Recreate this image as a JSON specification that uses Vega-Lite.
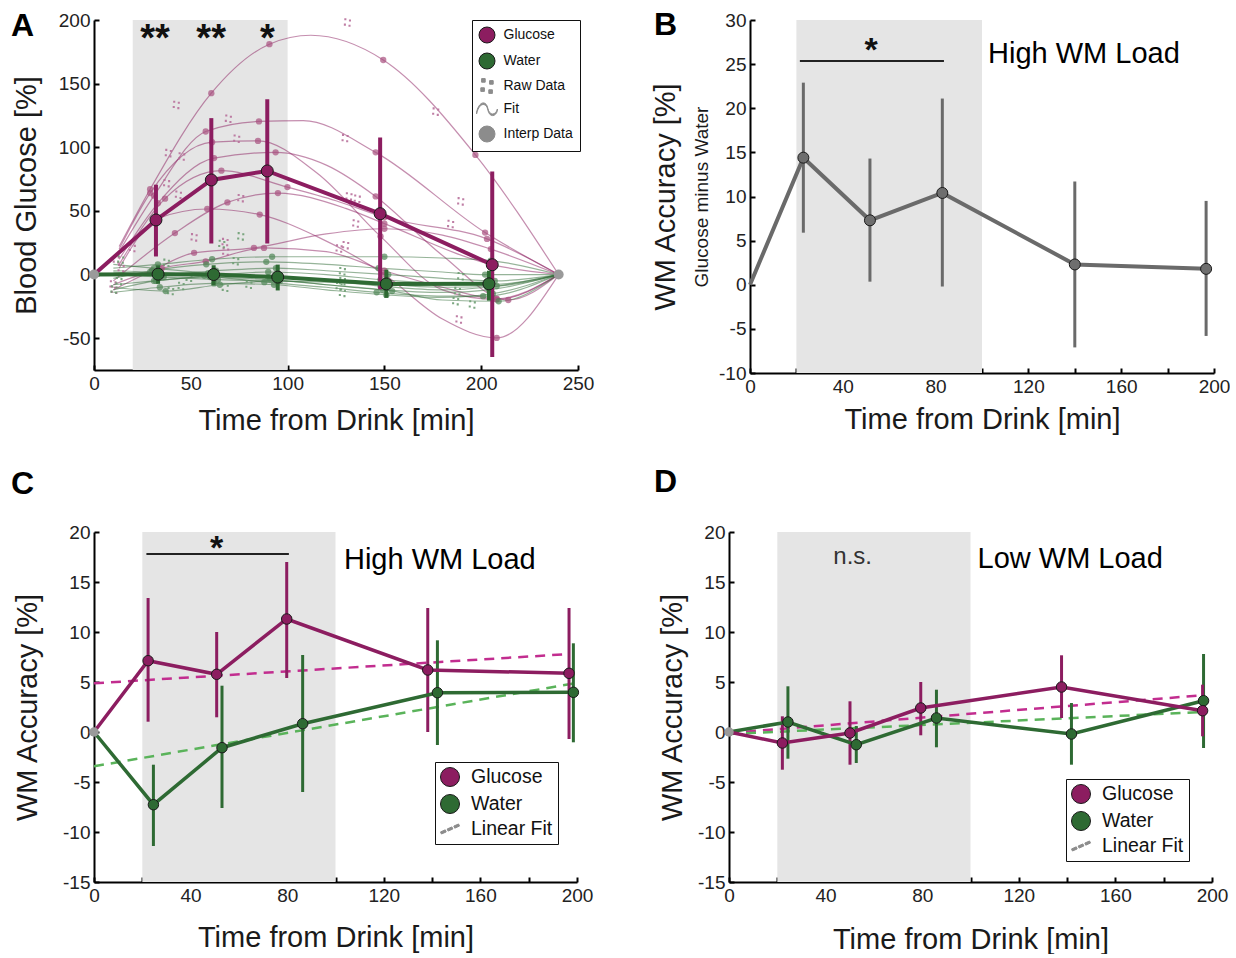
{
"$schema": "https://vega.github.io/schema/vega-lite/v6.json",
"background": "white",
"padding": {"left": 11, "top": 9, "right": 0, "bottom": 0},
"config": {
 "font": "Liberation Sans",
 "view": {"stroke": null},
 "axis": {"grid": false, "domainColor": "#000", "domainWidth": 2, "tickColor": "#000", "tickWidth": 2, "tickSize": -5, "labelFontSize": 19, "labelColor": "#222", "labelPadding": 9, "titleFontSize": 29, "titleFontWeight": "normal", "titleColor": "#1a1a1a", "labelFlush": false, "labelOverlap": false, "labelFont": "Liberation Sans", "titleFont": "Liberation Sans"},
 "title": {"anchor": "start", "frame": "group", "fontSize": 32, "fontWeight": "bold", "color": "#000", "offset": 0, "baseline": "alphabetic", "font": "Liberation Sans"},
 "text": {"font": "Liberation Sans"},
 "legend": {"labelFont": "Liberation Sans", "symbolOpacity": 1}
},
"datasets": {
 "A_shade": [{"start": 20, "end": 100}],
 "A_anchor": [{"t": 0, "v": 0}, {"t": 240, "v": 0}],
 "A_stars": [{"t": 31.5, "label": "**"}, {"t": 60.5, "label": "**"}, {"t": 89.5, "label": "*"}],
 "A_mean": [
  {"cond": "Glucose", "t": 0, "v": 0, "lo": null, "hi": null},
  {"cond": "Glucose", "t": 32, "v": 42.9, "lo": 14.2, "hi": 70.6},
  {"cond": "Glucose", "t": 60.6, "v": 74.3, "lo": 24.4, "hi": 122.9},
  {"cond": "Glucose", "t": 89.5, "v": 81.4, "lo": 24.4, "hi": 137.8},
  {"cond": "Glucose", "t": 147.8, "v": 47.8, "lo": -11.5, "hi": 107.7},
  {"cond": "Glucose", "t": 205.7, "v": 7.7, "lo": -64.8, "hi": 80.9},
  {"cond": "Water", "t": 0, "v": 0, "lo": null, "hi": null},
  {"cond": "Water", "t": 33.1, "v": 0.3, "lo": -7.3, "hi": 7.3},
  {"cond": "Water", "t": 61.8, "v": 0, "lo": -8.3, "hi": 7.3},
  {"cond": "Water", "t": 94.9, "v": -2, "lo": -12.5, "hi": 7.8},
  {"cond": "Water", "t": 151, "v": -7.4, "lo": -18.3, "hi": 3.9},
  {"cond": "Water", "t": 204, "v": -7.3, "lo": -20.5, "hi": 3}
 ],
 "A_fit": [
  {"cond":"Glucose","subj":"g1","t":13,"v":22,"kind":"fit"},{"cond":"Glucose","subj":"g1","t":29,"v":67,"kind":"interp"},{"cond":"Glucose","subj":"g1","t":60.6,"v":142.5,"kind":"interp"},{"cond":"Glucose","subj":"g1","t":90.6,"v":181,"kind":"interp"},{"cond":"Glucose","subj":"g1","t":112,"v":188,"kind":"fit"},{"cond":"Glucose","subj":"g1","t":149.4,"v":168.6,"kind":"interp"},{"cond":"Glucose","subj":"g1","t":197,"v":94,"kind":"interp"},{"cond":"Glucose","subj":"g1","t":240,"v":0,"kind":"fit"},
  {"cond":"Glucose","subj":"g2","t":13,"v":18,"kind":"fit"},{"cond":"Glucose","subj":"g2","t":31,"v":62,"kind":"interp"},{"cond":"Glucose","subj":"g2","t":57.7,"v":112.4,"kind":"interp"},{"cond":"Glucose","subj":"g2","t":85.2,"v":120.3,"kind":"interp"},{"cond":"Glucose","subj":"g2","t":108,"v":121,"kind":"fit"},{"cond":"Glucose","subj":"g2","t":145.5,"v":96,"kind":"interp"},{"cond":"Glucose","subj":"g2","t":202,"v":33,"kind":"interp"},{"cond":"Glucose","subj":"g2","t":240,"v":0,"kind":"fit"},
  {"cond":"Glucose","subj":"g3","t":13,"v":20,"kind":"fit"},{"cond":"Glucose","subj":"g3","t":29,"v":64,"kind":"interp"},{"cond":"Glucose","subj":"g3","t":61,"v":104,"kind":"interp"},{"cond":"Glucose","subj":"g3","t":84.7,"v":105,"kind":"interp"},{"cond":"Glucose","subj":"g3","t":115,"v":80,"kind":"fit"},{"cond":"Glucose","subj":"g3","t":148,"v":30,"kind":"interp"},{"cond":"Glucose","subj":"g3","t":180,"v":-12,"kind":"fit"},{"cond":"Glucose","subj":"g3","t":208,"v":-19.6,"kind":"interp"},{"cond":"Glucose","subj":"g3","t":240,"v":0,"kind":"fit"},
  {"cond":"Glucose","subj":"g4","t":13,"v":12,"kind":"fit"},{"cond":"Glucose","subj":"g4","t":33,"v":56,"kind":"interp"},{"cond":"Glucose","subj":"g4","t":62,"v":91.5,"kind":"interp"},{"cond":"Glucose","subj":"g4","t":93.8,"v":96,"kind":"interp"},{"cond":"Glucose","subj":"g4","t":120,"v":86,"kind":"fit"},{"cond":"Glucose","subj":"g4","t":145.5,"v":61.4,"kind":"interp"},{"cond":"Glucose","subj":"g4","t":180,"v":15,"kind":"fit"},{"cond":"Glucose","subj":"g4","t":214,"v":-20,"kind":"interp"},{"cond":"Glucose","subj":"g4","t":240,"v":0,"kind":"fit"},
  {"cond":"Glucose","subj":"g5","t":13,"v":8,"kind":"fit"},{"cond":"Glucose","subj":"g5","t":36.7,"v":59.6,"kind":"interp"},{"cond":"Glucose","subj":"g5","t":65.8,"v":81.6,"kind":"interp"},{"cond":"Glucose","subj":"g5","t":99.9,"v":68.7,"kind":"interp"},{"cond":"Glucose","subj":"g5","t":125,"v":58,"kind":"fit"},{"cond":"Glucose","subj":"g5","t":150,"v":45,"kind":"interp"},{"cond":"Glucose","subj":"g5","t":203,"v":28,"kind":"interp"},{"cond":"Glucose","subj":"g5","t":240,"v":0,"kind":"fit"},
  {"cond":"Glucose","subj":"g6","t":13,"v":5,"kind":"fit"},{"cond":"Glucose","subj":"g6","t":33,"v":44,"kind":"interp"},{"cond":"Glucose","subj":"g6","t":58.5,"v":51.5,"kind":"interp"},{"cond":"Glucose","subj":"g6","t":85.6,"v":47.1,"kind":"interp"},{"cond":"Glucose","subj":"g6","t":115,"v":30,"kind":"fit"},{"cond":"Glucose","subj":"g6","t":150,"v":0,"kind":"interp"},{"cond":"Glucose","subj":"g6","t":180,"v":-35,"kind":"fit"},{"cond":"Glucose","subj":"g6","t":208,"v":-49.8,"kind":"interp"},{"cond":"Glucose","subj":"g6","t":240,"v":0,"kind":"fit"},
  {"cond":"Glucose","subj":"g7","t":10,"v":-5,"kind":"fit"},{"cond":"Glucose","subj":"g7","t":41.8,"v":32.6,"kind":"interp"},{"cond":"Glucose","subj":"g7","t":68.9,"v":56.7,"kind":"interp"},{"cond":"Glucose","subj":"g7","t":95,"v":64,"kind":"interp"},{"cond":"Glucose","subj":"g7","t":130,"v":52,"kind":"fit"},{"cond":"Glucose","subj":"g7","t":150,"v":40,"kind":"interp"},{"cond":"Glucose","subj":"g7","t":205,"v":8,"kind":"interp"},{"cond":"Glucose","subj":"g7","t":240,"v":0,"kind":"fit"},
  {"cond":"Glucose","subj":"g8","t":10,"v":-12,"kind":"fit"},{"cond":"Glucose","subj":"g8","t":30,"v":3,"kind":"interp"},{"cond":"Glucose","subj":"g8","t":51.7,"v":17,"kind":"interp"},{"cond":"Glucose","subj":"g8","t":82.6,"v":20.9,"kind":"interp"},{"cond":"Glucose","subj":"g8","t":120,"v":32,"kind":"fit"},{"cond":"Glucose","subj":"g8","t":150,"v":36,"kind":"interp"},{"cond":"Glucose","subj":"g8","t":180,"v":31,"kind":"fit"},{"cond":"Glucose","subj":"g8","t":205,"v":20,"kind":"interp"},{"cond":"Glucose","subj":"g8","t":240,"v":0,"kind":"fit"},
  {"cond":"Glucose","subj":"g9","t":10,"v":-8,"kind":"fit"},{"cond":"Glucose","subj":"g9","t":35,"v":5,"kind":"interp"},{"cond":"Glucose","subj":"g9","t":57.7,"v":10.4,"kind":"interp"},{"cond":"Glucose","subj":"g9","t":87.8,"v":20.9,"kind":"interp"},{"cond":"Glucose","subj":"g9","t":120,"v":18,"kind":"fit"},{"cond":"Glucose","subj":"g9","t":150,"v":3,"kind":"interp"},{"cond":"Glucose","subj":"g9","t":180,"v":-10,"kind":"fit"},{"cond":"Glucose","subj":"g9","t":208,"v":-19,"kind":"interp"},{"cond":"Glucose","subj":"g9","t":240,"v":0,"kind":"fit"},
  {"cond":"Water","subj":"w1","t":10,"v":5,"kind":"fit"},{"cond":"Water","subj":"w1","t":33,"v":8,"kind":"interp"},{"cond":"Water","subj":"w1","t":61,"v":12,"kind":"interp"},{"cond":"Water","subj":"w1","t":92,"v":14,"kind":"interp"},{"cond":"Water","subj":"w1","t":120,"v":14,"kind":"fit"},{"cond":"Water","subj":"w1","t":150,"v":14,"kind":"interp"},{"cond":"Water","subj":"w1","t":180,"v":13,"kind":"fit"},{"cond":"Water","subj":"w1","t":205,"v":11,"kind":"interp"},{"cond":"Water","subj":"w1","t":240,"v":0,"kind":"fit"},
  {"cond":"Water","subj":"w2","t":10,"v":-3,"kind":"fit"},{"cond":"Water","subj":"w2","t":30,"v":3,"kind":"interp"},{"cond":"Water","subj":"w2","t":58,"v":8,"kind":"interp"},{"cond":"Water","subj":"w2","t":89,"v":10,"kind":"interp"},{"cond":"Water","subj":"w2","t":120,"v":8,"kind":"fit"},{"cond":"Water","subj":"w2","t":147,"v":5,"kind":"interp"},{"cond":"Water","subj":"w2","t":180,"v":2,"kind":"fit"},{"cond":"Water","subj":"w2","t":202,"v":0,"kind":"interp"},{"cond":"Water","subj":"w2","t":240,"v":0,"kind":"fit"},
  {"cond":"Water","subj":"w3","t":10,"v":2,"kind":"fit"},{"cond":"Water","subj":"w3","t":35,"v":0,"kind":"interp"},{"cond":"Water","subj":"w3","t":63,"v":3,"kind":"interp"},{"cond":"Water","subj":"w3","t":94,"v":5,"kind":"interp"},{"cond":"Water","subj":"w3","t":120,"v":3,"kind":"fit"},{"cond":"Water","subj":"w3","t":152,"v":0,"kind":"interp"},{"cond":"Water","subj":"w3","t":180,"v":-3,"kind":"fit"},{"cond":"Water","subj":"w3","t":207,"v":-5,"kind":"interp"},{"cond":"Water","subj":"w3","t":240,"v":0,"kind":"fit"},
  {"cond":"Water","subj":"w4","t":10,"v":-8,"kind":"fit"},{"cond":"Water","subj":"w4","t":31,"v":-5,"kind":"interp"},{"cond":"Water","subj":"w4","t":59,"v":-1,"kind":"interp"},{"cond":"Water","subj":"w4","t":90,"v":2,"kind":"interp"},{"cond":"Water","subj":"w4","t":120,"v":0,"kind":"fit"},{"cond":"Water","subj":"w4","t":148,"v":-4,"kind":"interp"},{"cond":"Water","subj":"w4","t":180,"v":-7,"kind":"fit"},{"cond":"Water","subj":"w4","t":203,"v":-8,"kind":"interp"},{"cond":"Water","subj":"w4","t":240,"v":0,"kind":"fit"},
  {"cond":"Water","subj":"w5","t":10,"v":0,"kind":"fit"},{"cond":"Water","subj":"w5","t":36,"v":-2,"kind":"interp"},{"cond":"Water","subj":"w5","t":64,"v":-4,"kind":"interp"},{"cond":"Water","subj":"w5","t":95,"v":-5,"kind":"interp"},{"cond":"Water","subj":"w5","t":120,"v":-6,"kind":"fit"},{"cond":"Water","subj":"w5","t":153,"v":-8,"kind":"interp"},{"cond":"Water","subj":"w5","t":180,"v":-10,"kind":"fit"},{"cond":"Water","subj":"w5","t":208,"v":-9,"kind":"interp"},{"cond":"Water","subj":"w5","t":240,"v":0,"kind":"fit"},
  {"cond":"Water","subj":"w6","t":10,"v":-12,"kind":"fit"},{"cond":"Water","subj":"w6","t":32,"v":-5,"kind":"interp"},{"cond":"Water","subj":"w6","t":60,"v":-2,"kind":"interp"},{"cond":"Water","subj":"w6","t":91,"v":-4,"kind":"interp"},{"cond":"Water","subj":"w6","t":120,"v":-8,"kind":"fit"},{"cond":"Water","subj":"w6","t":149,"v":-12,"kind":"interp"},{"cond":"Water","subj":"w6","t":180,"v":-14,"kind":"fit"},{"cond":"Water","subj":"w6","t":204,"v":-12,"kind":"interp"},{"cond":"Water","subj":"w6","t":240,"v":0,"kind":"fit"},
  {"cond":"Water","subj":"w7","t":10,"v":-14,"kind":"fit"},{"cond":"Water","subj":"w7","t":34,"v":-10,"kind":"interp"},{"cond":"Water","subj":"w7","t":62,"v":-7,"kind":"interp"},{"cond":"Water","subj":"w7","t":93,"v":-8,"kind":"interp"},{"cond":"Water","subj":"w7","t":120,"v":-12,"kind":"fit"},{"cond":"Water","subj":"w7","t":151,"v":-16,"kind":"interp"},{"cond":"Water","subj":"w7","t":180,"v":-18,"kind":"fit"},{"cond":"Water","subj":"w7","t":206,"v":-15,"kind":"interp"},{"cond":"Water","subj":"w7","t":240,"v":0,"kind":"fit"},
  {"cond":"Water","subj":"w8","t":10,"v":3,"kind":"fit"},{"cond":"Water","subj":"w8","t":29,"v":2,"kind":"interp"},{"cond":"Water","subj":"w8","t":57,"v":-1,"kind":"interp"},{"cond":"Water","subj":"w8","t":88,"v":-6,"kind":"interp"},{"cond":"Water","subj":"w8","t":120,"v":-10,"kind":"fit"},{"cond":"Water","subj":"w8","t":146,"v":-14,"kind":"interp"},{"cond":"Water","subj":"w8","t":180,"v":-17,"kind":"fit"},{"cond":"Water","subj":"w8","t":201,"v":-17,"kind":"interp"},{"cond":"Water","subj":"w8","t":240,"v":0,"kind":"fit"},
  {"cond":"Water","subj":"w9","t":10,"v":-10,"kind":"fit"},{"cond":"Water","subj":"w9","t":37,"v":-13,"kind":"interp"},{"cond":"Water","subj":"w9","t":65,"v":-8,"kind":"interp"},{"cond":"Water","subj":"w9","t":96,"v":-5,"kind":"interp"},{"cond":"Water","subj":"w9","t":120,"v":-8,"kind":"fit"},{"cond":"Water","subj":"w9","t":154,"v":-13,"kind":"interp"},{"cond":"Water","subj":"w9","t":180,"v":-20,"kind":"fit"},{"cond":"Water","subj":"w9","t":209,"v":-21,"kind":"interp"},{"cond":"Water","subj":"w9","t":240,"v":0,"kind":"fit"},
  {"cond":"Water","subj":"w10","t":10,"v":8,"kind":"fit"},{"cond":"Water","subj":"w10","t":31,"v":5,"kind":"interp"},{"cond":"Water","subj":"w10","t":59,"v":1,"kind":"interp"},{"cond":"Water","subj":"w10","t":90,"v":-2,"kind":"interp"},{"cond":"Water","subj":"w10","t":120,"v":-5,"kind":"fit"},{"cond":"Water","subj":"w10","t":148,"v":-9,"kind":"interp"},{"cond":"Water","subj":"w10","t":180,"v":-12,"kind":"fit"},{"cond":"Water","subj":"w10","t":203,"v":-10,"kind":"interp"},{"cond":"Water","subj":"w10","t":240,"v":0,"kind":"fit"}
 ],
 "A_raw": [
  {"cond":"Glucose","t":42.5,"v":133.3},{"cond":"Glucose","t":69.4,"v":122.4},{"cond":"Glucose","t":73.7,"v":106.7},{"cond":"Glucose","t":38.4,"v":95.4},{"cond":"Glucose","t":45.3,"v":92.8},{"cond":"Glucose","t":37.5,"v":71.8},{"cond":"Glucose","t":43.6,"v":62.7},{"cond":"Glucose","t":75.8,"v":60},{"cond":"Glucose","t":51.7,"v":29.2},{"cond":"Glucose","t":67.7,"v":25.5},{"cond":"Glucose","t":11.5,"v":11.8},{"cond":"Glucose","t":9.8,"v":-7.8},{"cond":"Glucose","t":19.8,"v":20.9},{"cond":"Glucose","t":130.9,"v":198},{"cond":"Glucose","t":129.7,"v":107.2},{"cond":"Glucose","t":176.5,"v":128},{"cond":"Glucose","t":131.7,"v":61.4},{"cond":"Glucose","t":136,"v":59.6},{"cond":"Glucose","t":189.4,"v":57.5},{"cond":"Glucose","t":184.2,"v":39.7},{"cond":"Glucose","t":135.2,"v":40.1},{"cond":"Glucose","t":130,"v":23.1},{"cond":"Glucose","t":126.6,"v":20.5},{"cond":"Glucose","t":188.5,"v":-35.3},{"cond":"Glucose","t":10.5,"v":-12},{"cond":"Glucose","t":14,"v":5},{"cond":"Glucose","t":68,"v":18},
  {"cond":"Water","t":75.8,"v":30},{"cond":"Water","t":39.6,"v":-13},{"cond":"Water","t":67.8,"v":-10.4},{"cond":"Water","t":37.4,"v":9.2},{"cond":"Water","t":49.1,"v":-2.6},{"cond":"Water","t":73.2,"v":10.5},{"cond":"Water","t":12.9,"v":-5.2},{"cond":"Water","t":10.3,"v":-11.8},{"cond":"Water","t":13.8,"v":11.8},{"cond":"Water","t":128.3,"v":2.6},{"cond":"Water","t":128.3,"v":-5.2},{"cond":"Water","t":128.3,"v":-14.4},{"cond":"Water","t":189.4,"v":-1.3},{"cond":"Water","t":187.7,"v":-13},{"cond":"Water","t":186.8,"v":-20.9},{"cond":"Water","t":195.4,"v":-23.5},{"cond":"Water","t":126.6,"v":-9.2},{"cond":"Water","t":80,"v":-8},{"cond":"Water","t":45,"v":-9},{"cond":"Water","t":66,"v":24}
 ],
 "B_line": [
  {"t": 0, "v": 0, "lo": null, "hi": null},
  {"t": 23, "v": 14.4, "lo": 5.9, "hi": 22.9},
  {"t": 51.7, "v": 7.3, "lo": 0.35, "hi": 14.3},
  {"t": 82.9, "v": 10.4, "lo": -0.2, "hi": 21.1},
  {"t": 140, "v": 2.3, "lo": -7.1, "hi": 11.7},
  {"t": 196.6, "v": 1.8, "lo": -5.8, "hi": 9.5}
 ],
 "B_shade": [{"start": 20, "end": 100}],
 "B_sig": [{"t": 21.5, "t2": 83.6, "v": 25.35}],
 "B_star": [{"t": 52.2, "v": 25.35, "label": "*"}],
 "B_label": [{"t": 102.6, "v": 25.1, "label": "High WM Load"}],
 "B_sub": [{"t": -18.1, "v": 9.94, "label": "Glucose minus Water"}],
 "C_shade": [{"start": 20, "end": 100}],
 "C_mean": [
  {"cond": "Glucose", "t": 0, "v": 0, "lo": null, "hi": null},
  {"cond": "Glucose", "t": 22.4, "v": 7.13, "lo": 1.03, "hi": 13.4},
  {"cond": "Glucose", "t": 50.8, "v": 5.77, "lo": 1.47, "hi": 10.0},
  {"cond": "Glucose", "t": 79.8, "v": 11.3, "lo": 5.4, "hi": 17.0},
  {"cond": "Glucose", "t": 138.2, "v": 6.2, "lo": 0.0, "hi": 12.4},
  {"cond": "Glucose", "t": 196.7, "v": 5.87, "lo": -0.7, "hi": 12.4},
  {"cond": "Water", "t": 0, "v": 0, "lo": null, "hi": null},
  {"cond": "Water", "t": 24.6, "v": -7.27, "lo": -11.4, "hi": -3.27},
  {"cond": "Water", "t": 53, "v": -1.57, "lo": -7.6, "hi": 4.63},
  {"cond": "Water", "t": 86.4, "v": 0.83, "lo": -6.0, "hi": 7.7},
  {"cond": "Water", "t": 142.2, "v": 3.93, "lo": -1.3, "hi": 9.17},
  {"cond": "Water", "t": 198.5, "v": 3.97, "lo": -1.03, "hi": 8.87}
 ],
 "C_fit": [{"cond": "Glucose", "t": 0, "v": 4.87}, {"cond": "Glucose", "t": 197, "v": 7.8}, {"cond": "Water", "t": 0, "v": -3.43}, {"cond": "Water", "t": 198, "v": 4.83}],
 "C_origin": [{"t": 0, "v": 0}],
 "C_sig": [{"t": 21.7, "t2": 80.7, "v": 17.8}],
 "C_star": [{"t": 50.8, "v": 17.3, "label": "*"}],
 "C_label": [{"t": 103.5, "v": 16.3, "label": "High WM Load"}],
 "D_shade": [{"start": 20, "end": 100}],
 "D_mean": [
  {"cond": "Water", "t": 0, "v": 0, "lo": null, "hi": null},
  {"cond": "Water", "t": 24.4, "v": 1.0, "lo": -2.67, "hi": 4.57},
  {"cond": "Water", "t": 52.7, "v": -1.27, "lo": -3.1, "hi": 0.6},
  {"cond": "Water", "t": 85.9, "v": 1.4, "lo": -1.53, "hi": 4.23},
  {"cond": "Water", "t": 141.8, "v": -0.2, "lo": -3.27, "hi": 2.9},
  {"cond": "Water", "t": 196.5, "v": 3.13, "lo": -1.6, "hi": 7.8},
  {"cond": "Glucose", "t": 0, "v": 0, "lo": null, "hi": null},
  {"cond": "Glucose", "t": 22.1, "v": -1.1, "lo": -3.77, "hi": 1.57},
  {"cond": "Glucose", "t": 50.1, "v": -0.1, "lo": -3.27, "hi": 3.07},
  {"cond": "Glucose", "t": 79.4, "v": 2.4, "lo": -0.33, "hi": 5.0},
  {"cond": "Glucose", "t": 137.7, "v": 4.5, "lo": 1.4, "hi": 7.67},
  {"cond": "Glucose", "t": 196.1, "v": 2.13, "lo": -0.43, "hi": 4.73}
 ],
 "D_fit": [{"cond": "Glucose", "t": 0, "v": -0.1}, {"cond": "Glucose", "t": 196, "v": 3.67}, {"cond": "Water", "t": 0, "v": -0.2}, {"cond": "Water", "t": 196, "v": 2.0}],
 "D_origin": [{"t": 0, "v": 0}],
 "D_ns": [{"t": 51.2, "v": 16.8, "label": "n.s."}],
 "D_label": [{"t": 102.9, "v": 16.4, "label": "Low WM Load"}]
},
"resolve": {"scale": {"color": "independent", "shape": "independent", "stroke": "independent"}, "legend": {"color": "independent", "shape": "independent", "stroke": "independent"}},
"spacing": 31,
"vconcat": [
{
 "spacing": 57,
 "resolve": {"scale": {"color": "independent", "shape": "independent", "stroke": "independent"}, "legend": {"color": "independent", "shape": "independent", "stroke": "independent"}},
 "hconcat": [
 {
  "width": 484, "height": 350,
  "title": {"text": "A", "dx": -83, "dy": 36},
  "layer": [
   {"data": {"name": "A_shade"}, "mark": {"type": "rect", "color": "#e5e5e5"},
    "encoding": {"x": {"field": "start", "type": "quantitative", "scale": {"domain": [0, 250], "nice": false, "zero": false}, "axis": {"title": "Time from Drink [min]", "values": [0, 50, 100, 150, 200, 250], "titlePadding": 13}}, "x2": {"field": "end"}}},
   {"data": {"name": "A_fit"}, "transform": [{"filter": "datum.cond == 'Glucose'"}],
    "mark": {"type": "line", "interpolate": "monotone", "color": "#8C1D60", "opacity": 0.5, "strokeWidth": 1.2},
    "encoding": {"x": {"field": "t", "type": "quantitative"}, "y": {"field": "v", "type": "quantitative", "scale": {"domain": [-75, 200], "nice": false, "zero": false}, "axis": {"title": "Blood Glucose [%]", "values": [-50, 0, 50, 100, 150, 200], "labelExpr": "'' + datum.value", "titlePadding": 17}}, "detail": {"field": "subj"}, "order": {"field": "t"}}},
   {"data": {"name": "A_fit"}, "transform": [{"filter": "datum.cond == 'Water'"}],
    "mark": {"type": "line", "interpolate": "monotone", "color": "#2E6A33", "opacity": 0.5, "strokeWidth": 1.2},
    "encoding": {"x": {"field": "t", "type": "quantitative"}, "y": {"field": "v", "type": "quantitative"}, "detail": {"field": "subj"}, "order": {"field": "t"}}},
   {"data": {"name": "A_raw"},
    "mark": {"type": "point", "filled": true, "size": 85, "opacity": 0.9, "shape": "M-0.675,-0.925h0.45v0.45h-0.45Z M0.325,-0.675h0.45v0.45h-0.45Z M-0.775,0.225h0.45v0.45h-0.45Z M0.225,0.475h0.45v0.45h-0.45Z"},
    "encoding": {"x": {"field": "t", "type": "quantitative"}, "y": {"field": "v", "type": "quantitative"}, "color": {"condition": {"test": "datum.cond == 'Glucose'", "value": "#B8709B"}, "value": "#6E9F73"}}},
   {"data": {"name": "A_fit"}, "transform": [{"filter": "datum.kind == 'interp'"}],
    "mark": {"type": "point", "filled": true, "size": 40, "opacity": 0.7},
    "encoding": {"x": {"field": "t", "type": "quantitative"}, "y": {"field": "v", "type": "quantitative"}, "color": {"condition": {"test": "datum.cond == 'Glucose'", "value": "#A8507F"}, "value": "#4F8655"}}},
   {"mark": {"type": "rule", "color": "#000", "strokeWidth": 2.5}, "encoding": {"y": {"datum": 0, "type": "quantitative"}}},
   {"data": {"name": "A_mean"}, "transform": [{"filter": "datum.t > 0"}],
    "mark": {"type": "rule", "strokeWidth": 4},
    "encoding": {"x": {"field": "t", "type": "quantitative"}, "y": {"field": "lo", "type": "quantitative"}, "y2": {"field": "hi"},
     "color": {"condition": {"test": "datum.cond == 'Glucose'", "value": "#8C1D60"}, "value": "#2E6A33"}}},
   {"data": {"name": "A_mean"},
    "mark": {"type": "line", "strokeWidth": 4},
    "encoding": {"x": {"field": "t", "type": "quantitative"}, "y": {"field": "v", "type": "quantitative"}, "order": {"field": "t"}, "detail": {"field": "cond"},
     "color": {"condition": {"test": "datum.cond == 'Glucose'", "value": "#8C1D60"}, "value": "#2E6A33"}}},
   {"data": {"name": "A_mean"}, "transform": [{"filter": "datum.t > 0"}],
    "mark": {"type": "point", "filled": true, "size": 144, "opacity": 1, "strokeWidth": 1},
    "encoding": {"x": {"field": "t", "type": "quantitative"}, "y": {"field": "v", "type": "quantitative"},
     "color": {"field": "cond", "type": "nominal", "scale": {"domain": ["Glucose", "Water", "Raw Data", "Fit", "Interp Data"], "range": ["#8C1D60", "#2E6A33", "#8c8c8c", "#8c8c8c", "#8c8c8c"]},
      "legend": {"orient": "none", "legendX": 378, "legendY": 0, "title": null, "labelFontSize": 14, "labelColor": "#111", "symbolSize": 256, "symbolStrokeWidth": 1, "labelOffset": 8, "rowPadding": 5, "padding": 6.5, "strokeColor": "#111", "fillColor": "white", "labelLimit": 300}},
     "shape": {"field": "cond", "type": "nominal", "scale": {"domain": ["Glucose", "Water", "Raw Data", "Fit", "Interp Data"], "range": ["circle", "circle", "M-0.675,-0.925h0.45v0.45h-0.45Z M0.325,-0.675h0.45v0.45h-0.45Z M-0.775,0.225h0.45v0.45h-0.45Z M0.225,0.475h0.45v0.45h-0.45Z", "M-1.3,0.4C-1,-1 -0.1,-1.1 0.1,-0.1C0.3,0.9 1.1,0.8 1.3,0L1.3,0.2C1.1,1 0.3,1.1 0.1,0.1C-0.1,-0.9 -1,-0.8 -1.3,0.6Z", "circle"]},
      "legend": {"orient": "none", "legendX": 378, "legendY": 0, "title": null, "labelFontSize": 14, "labelColor": "#111", "symbolSize": 256, "symbolStrokeWidth": 1, "labelOffset": 8, "rowPadding": 5, "padding": 6.5, "strokeColor": "#111", "fillColor": "white", "labelLimit": 300}},
     "stroke": {"field": "cond", "type": "nominal", "scale": {"domain": ["Glucose", "Water", "Raw Data", "Fit", "Interp Data"], "range": ["#1a1a1a", "#1a1a1a", "#8c8c8c", "#8c8c8c", "#8c8c8c"]},
      "legend": {"orient": "none", "legendX": 378, "legendY": 0, "title": null, "labelFontSize": 14, "labelColor": "#111", "symbolSize": 256, "symbolStrokeWidth": 1, "labelOffset": 8, "rowPadding": 5, "padding": 6.5, "strokeColor": "#111", "fillColor": "white", "labelLimit": 300}}}},
   {"data": {"name": "A_anchor"}, "mark": {"type": "point", "filled": true, "size": 100, "color": "#9a9a9a", "opacity": 1},
    "encoding": {"x": {"field": "t", "type": "quantitative"}, "y": {"field": "v", "type": "quantitative"}}},
   {"data": {"name": "A_stars"}, "mark": {"type": "text", "fontSize": 38, "fontWeight": "bold", "color": "#111", "baseline": "alphabetic", "align": "center"},
    "encoding": {"x": {"field": "t", "type": "quantitative"}, "y": {"datum": 175.6, "type": "quantitative"}, "text": {"field": "label"}}}
  ]
 },
 {
  "width": 464, "height": 353,
  "title": {"text": "B", "dx": -96, "dy": 35},
  "layer": [
   {"data": {"name": "B_shade"}, "mark": {"type": "rect", "color": "#e5e5e5"},
    "encoding": {"x": {"field": "start", "type": "quantitative", "scale": {"domain": [0, 200], "nice": false, "zero": false}, "axis": {"title": "Time from Drink [min]", "values": [0, 20, 40, 60, 80, 100, 120, 140, 160, 180, 200], "labelExpr": "datum.value % 40 === 0 ? '' + datum.value : ''", "titlePadding": 9}}, "x2": {"field": "end"}}},
   {"mark": {"type": "rule", "color": "#000", "strokeWidth": 2}, "encoding": {"y": {"datum": 0, "type": "quantitative"}}},
   {"data": {"name": "B_sig"}, "mark": {"type": "rule", "color": "#222", "strokeWidth": 2},
    "encoding": {"x": {"field": "t", "type": "quantitative"}, "x2": {"field": "t2"}, "y": {"field": "v", "type": "quantitative"}}},
   {"data": {"name": "B_line"}, "transform": [{"filter": "datum.t > 0"}], "mark": {"type": "rule", "color": "#6a6a6a", "strokeWidth": 3},
    "encoding": {"x": {"field": "t", "type": "quantitative"}, "y": {"field": "lo", "type": "quantitative"}, "y2": {"field": "hi"}}},
   {"data": {"name": "B_line"}, "mark": {"type": "line", "color": "#6a6a6a", "strokeWidth": 4},
    "encoding": {"x": {"field": "t", "type": "quantitative"}, "y": {"field": "v", "type": "quantitative", "scale": {"domain": [-10, 30], "nice": false, "zero": false}, "axis": {"title": "WM Accuracy [%]", "values": [-10, -5, 0, 5, 10, 15, 20, 25, 30], "labelExpr": "'' + datum.value", "titlePadding": 38}}, "order": {"field": "t"}}},
   {"data": {"name": "B_line"}, "transform": [{"filter": "datum.t > 0"}], "mark": {"type": "point", "filled": true, "size": 121, "color": "#6e6e6e", "stroke": "#1a1a1a", "strokeWidth": 1, "opacity": 1},
    "encoding": {"x": {"field": "t", "type": "quantitative"}, "y": {"field": "v", "type": "quantitative"}}},
   {"data": {"name": "B_star"}, "mark": {"type": "text", "fontSize": 34, "fontWeight": "bold", "color": "#111", "baseline": "alphabetic", "align": "center"},
    "encoding": {"x": {"field": "t", "type": "quantitative"}, "y": {"field": "v", "type": "quantitative"}, "text": {"field": "label"}}},
   {"data": {"name": "B_label"}, "mark": {"type": "text", "fontSize": 29, "color": "#000", "baseline": "alphabetic", "align": "left"},
    "encoding": {"x": {"field": "t", "type": "quantitative"}, "y": {"field": "v", "type": "quantitative"}, "text": {"field": "label"}}},
   {"data": {"name": "B_sub"}, "mark": {"type": "text", "fontSize": 19, "color": "#1a1a1a", "baseline": "alphabetic", "align": "center", "angle": 270},
    "encoding": {"x": {"field": "t", "type": "quantitative"}, "y": {"field": "v", "type": "quantitative"}, "text": {"field": "label"}}}
  ]
 }
 ]
},
{
 "spacing": 61,
 "resolve": {"scale": {"color": "independent", "shape": "independent", "stroke": "independent"}, "legend": {"color": "independent", "shape": "independent", "stroke": "independent"}},
 "hconcat": [
 {
  "width": 483, "height": 350,
  "title": {"text": "C", "dx": -83, "dy": -18},
  "layer": [
   {"data": {"name": "C_shade"}, "mark": {"type": "rect", "color": "#e5e5e5"},
    "encoding": {"x": {"field": "start", "type": "quantitative", "scale": {"domain": [0, 200], "nice": false, "zero": false}, "axis": {"title": "Time from Drink [min]", "values": [0, 20, 40, 60, 80, 100, 120, 140, 160, 180, 200], "labelExpr": "datum.value % 40 === 0 ? '' + datum.value : ''", "titlePadding": 18}}, "x2": {"field": "end"}}},
   {"mark": {"type": "rule", "color": "#000", "strokeWidth": 2}, "encoding": {"y": {"datum": 0, "type": "quantitative", "scale": {"domain": [-15, 20], "nice": false, "zero": false}, "axis": {"title": "WM Accuracy [%]", "values": [-15, -10, -5, 0, 5, 10, 15, 20], "labelExpr": "'' + datum.value", "titlePadding": 20}}}},
   {"data": {"name": "C_fit"}, "mark": {"type": "line", "strokeWidth": 2.5, "strokeDash": [10, 7]},
    "encoding": {"x": {"field": "t", "type": "quantitative"}, "y": {"field": "v", "type": "quantitative"}, "detail": {"field": "cond"}, "color": {"condition": {"test": "datum.cond == 'Glucose'", "value": "#C22D8F"}, "value": "#5AB35A"}}},
   {"data": {"name": "C_mean"}, "transform": [{"filter": "datum.t > 0"}], "mark": {"type": "rule", "strokeWidth": 3},
    "encoding": {"x": {"field": "t", "type": "quantitative"}, "y": {"field": "lo", "type": "quantitative"}, "y2": {"field": "hi"},
     "color": {"condition": {"test": "datum.cond == 'Glucose'", "value": "#8C1D60"}, "value": "#2E6A33"}}},
   {"data": {"name": "C_mean"}, "mark": {"type": "line", "strokeWidth": 3.5},
    "encoding": {"x": {"field": "t", "type": "quantitative"}, "y": {"field": "v", "type": "quantitative"}, "order": {"field": "t"}, "detail": {"field": "cond"},
     "color": {"condition": {"test": "datum.cond == 'Glucose'", "value": "#8C1D60"}, "value": "#2E6A33"}}},
   {"data": {"name": "C_mean"}, "transform": [{"filter": "datum.t > 0"}], "mark": {"type": "point", "filled": true, "size": 110, "opacity": 1, "strokeWidth": 1},
    "encoding": {"x": {"field": "t", "type": "quantitative"}, "y": {"field": "v", "type": "quantitative"},
     "color": {"field": "cond", "type": "nominal", "scale": {"domain": ["Glucose", "Water", "Linear Fit"], "range": ["#8C1D60", "#2E6A33", "#8c8c8c"]},
      "legend": {"orient": "none", "legendX": 341, "legendY": 230, "title": null, "labelFontSize": 19.5, "labelColor": "#111", "symbolSize": 361, "symbolStrokeWidth": 1, "labelOffset": 11, "rowPadding": 3, "padding": 5, "strokeColor": "#111", "fillColor": "white"}},
     "shape": {"field": "cond", "type": "nominal", "scale": {"domain": ["Glucose", "Water", "Linear Fit"], "range": ["circle", "circle", "M-0.9,0.528L-0.4,0.308L-0.5,0.088L-1,0.308Z M-0.2,0.22L0.3,0L0.2,-0.22L-0.3,0Z M0.5,-0.088L1,-0.308L0.9,-0.528L0.4,-0.308Z"]},
      "legend": {"orient": "none", "legendX": 341, "legendY": 230, "title": null, "labelFontSize": 19.5, "labelColor": "#111", "symbolSize": 361, "symbolStrokeWidth": 1, "labelOffset": 11, "rowPadding": 3, "padding": 5, "strokeColor": "#111", "fillColor": "white"}},
     "stroke": {"field": "cond", "type": "nominal", "scale": {"domain": ["Glucose", "Water", "Linear Fit"], "range": ["#1a1a1a", "#1a1a1a", "#8c8c8c"]},
      "legend": {"orient": "none", "legendX": 341, "legendY": 230, "title": null, "labelFontSize": 19.5, "labelColor": "#111", "symbolSize": 361, "symbolStrokeWidth": 1, "labelOffset": 11, "rowPadding": 3, "padding": 5, "strokeColor": "#111", "fillColor": "white"}}}},
   {"data": {"name": "C_origin"}, "mark": {"type": "point", "filled": true, "size": 90, "color": "#9a9a9a", "opacity": 1},
    "encoding": {"x": {"field": "t", "type": "quantitative"}, "y": {"field": "v", "type": "quantitative"}}},
   {"data": {"name": "C_sig"}, "mark": {"type": "rule", "color": "#222", "strokeWidth": 2},
    "encoding": {"x": {"field": "t", "type": "quantitative"}, "x2": {"field": "t2"}, "y": {"field": "v", "type": "quantitative"}}},
   {"data": {"name": "C_star"}, "mark": {"type": "text", "fontSize": 34, "fontWeight": "bold", "color": "#111", "baseline": "alphabetic", "align": "center"},
    "encoding": {"x": {"field": "t", "type": "quantitative"}, "y": {"field": "v", "type": "quantitative"}, "text": {"field": "label"}}},
   {"data": {"name": "C_label"}, "mark": {"type": "text", "fontSize": 29, "color": "#000", "baseline": "alphabetic", "align": "left"},
    "encoding": {"x": {"field": "t", "type": "quantitative"}, "y": {"field": "v", "type": "quantitative"}, "text": {"field": "label"}}}
  ]
 },
 {
  "width": 483, "height": 350,
  "title": {"text": "D", "dx": -75, "dy": -20},
  "layer": [
   {"data": {"name": "D_shade"}, "mark": {"type": "rect", "color": "#e5e5e5"},
    "encoding": {"x": {"field": "start", "type": "quantitative", "scale": {"domain": [0, 200], "nice": false, "zero": false}, "axis": {"title": "Time from Drink [min]", "values": [0, 20, 40, 60, 80, 100, 120, 140, 160, 180, 200], "labelExpr": "datum.value % 40 === 0 ? '' + datum.value : ''", "titlePadding": 20}}, "x2": {"field": "end"}}},
   {"mark": {"type": "rule", "color": "#222", "strokeWidth": 2}, "encoding": {"y": {"datum": 0, "type": "quantitative", "scale": {"domain": [-15, 20], "nice": false, "zero": false}, "axis": {"title": "WM Accuracy [%]", "values": [-15, -10, -5, 0, 5, 10, 15, 20], "labelExpr": "'' + datum.value", "titlePadding": 10}}}},
   {"data": {"name": "D_fit"}, "mark": {"type": "line", "strokeWidth": 2.5, "strokeDash": [10, 7]},
    "encoding": {"x": {"field": "t", "type": "quantitative"}, "y": {"field": "v", "type": "quantitative"}, "detail": {"field": "cond"}, "color": {"condition": {"test": "datum.cond == 'Glucose'", "value": "#C22D8F"}, "value": "#5AB35A"}}},
   {"data": {"name": "D_mean"}, "transform": [{"filter": "datum.t > 0"}], "mark": {"type": "rule", "strokeWidth": 3},
    "encoding": {"x": {"field": "t", "type": "quantitative"}, "y": {"field": "lo", "type": "quantitative"}, "y2": {"field": "hi"},
     "color": {"condition": {"test": "datum.cond == 'Glucose'", "value": "#8C1D60"}, "value": "#2E6A33"}}},
   {"data": {"name": "D_mean"}, "mark": {"type": "line", "strokeWidth": 3.5},
    "encoding": {"x": {"field": "t", "type": "quantitative"}, "y": {"field": "v", "type": "quantitative"}, "order": {"field": "t"}, "detail": {"field": "cond"},
     "color": {"condition": {"test": "datum.cond == 'Glucose'", "value": "#8C1D60"}, "value": "#2E6A33"}}},
   {"data": {"name": "D_mean"}, "transform": [{"filter": "datum.t > 0"}], "mark": {"type": "point", "filled": true, "size": 110, "opacity": 1, "strokeWidth": 1},
    "encoding": {"x": {"field": "t", "type": "quantitative"}, "y": {"field": "v", "type": "quantitative"},
     "color": {"field": "cond", "type": "nominal", "scale": {"domain": ["Glucose", "Water", "Linear Fit"], "range": ["#8C1D60", "#2E6A33", "#8c8c8c"]},
      "legend": {"orient": "none", "legendX": 337, "legendY": 247, "title": null, "labelFontSize": 19.5, "labelColor": "#111", "symbolSize": 361, "symbolStrokeWidth": 1, "labelOffset": 11, "rowPadding": 3, "padding": 5, "strokeColor": "#111", "fillColor": "white"}},
     "shape": {"field": "cond", "type": "nominal", "scale": {"domain": ["Glucose", "Water", "Linear Fit"], "range": ["circle", "circle", "M-0.9,0.528L-0.4,0.308L-0.5,0.088L-1,0.308Z M-0.2,0.22L0.3,0L0.2,-0.22L-0.3,0Z M0.5,-0.088L1,-0.308L0.9,-0.528L0.4,-0.308Z"]},
      "legend": {"orient": "none", "legendX": 337, "legendY": 247, "title": null, "labelFontSize": 19.5, "labelColor": "#111", "symbolSize": 361, "symbolStrokeWidth": 1, "labelOffset": 11, "rowPadding": 3, "padding": 5, "strokeColor": "#111", "fillColor": "white"}},
     "stroke": {"field": "cond", "type": "nominal", "scale": {"domain": ["Glucose", "Water", "Linear Fit"], "range": ["#1a1a1a", "#1a1a1a", "#8c8c8c"]},
      "legend": {"orient": "none", "legendX": 337, "legendY": 247, "title": null, "labelFontSize": 19.5, "labelColor": "#111", "symbolSize": 361, "symbolStrokeWidth": 1, "labelOffset": 11, "rowPadding": 3, "padding": 5, "strokeColor": "#111", "fillColor": "white"}}}},
   {"data": {"name": "D_origin"}, "mark": {"type": "point", "filled": true, "size": 90, "color": "#9a9a9a", "opacity": 1},
    "encoding": {"x": {"field": "t", "type": "quantitative"}, "y": {"field": "v", "type": "quantitative"}}},
   {"data": {"name": "D_ns"}, "mark": {"type": "text", "fontSize": 24, "color": "#333", "baseline": "alphabetic", "align": "center"},
    "encoding": {"x": {"field": "t", "type": "quantitative"}, "y": {"field": "v", "type": "quantitative"}, "text": {"field": "label"}}},
   {"data": {"name": "D_label"}, "mark": {"type": "text", "fontSize": 29, "color": "#000", "baseline": "alphabetic", "align": "left"},
    "encoding": {"x": {"field": "t", "type": "quantitative"}, "y": {"field": "v", "type": "quantitative"}, "text": {"field": "label"}}}
  ]
 }
 ]
}
]
}
